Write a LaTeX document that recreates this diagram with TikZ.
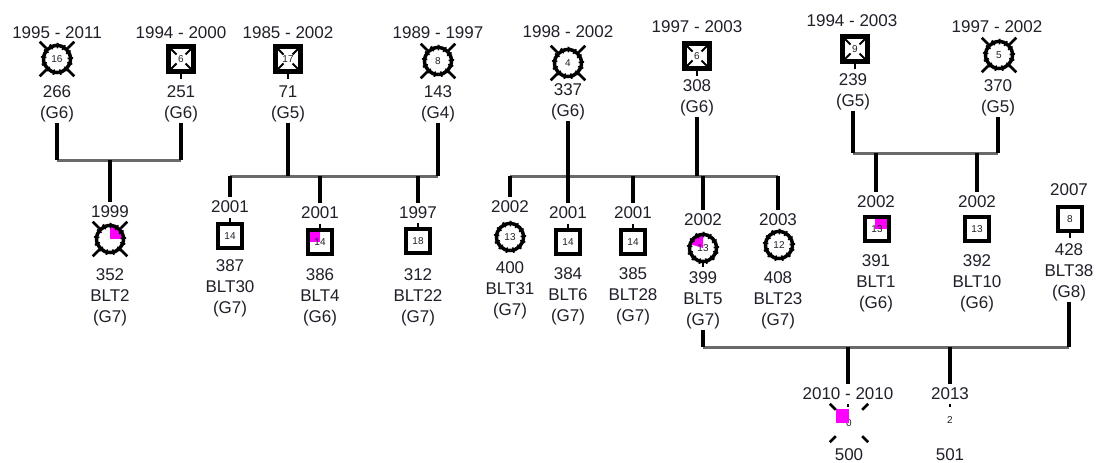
\documentclass[tikz,border=0pt]{standalone}
\usepackage{fontspec}
\setmainfont{Liberation Sans}
\usetikzlibrary{calc}

\definecolor{inkgray}{HTML}{20202A}
\definecolor{bargray}{HTML}{6A6A6A}
\definecolor{share}{HTML}{FF00FF}

\tikzset{
  txt/.style={text=inkgray, inner sep=1pt, align=center, font=\fontsize{17}{21}\selectfont},
  num/.style={text=inkgray, inner sep=0pt, font=\fontsize{10}{11}\selectfont},
  knobs/.style={postaction={draw, line width=5.5pt, dash pattern=on 1.6pt off 5pt}},
  female/.style={circle, draw=black, fill=white, line width=3.5pt, minimum size=27pt, num, knobs},
  male/.style={rectangle, draw=black, fill=white, line width=3.5pt, minimum size=24pt, num},
  deadmale/.style={male, line width=5pt, minimum size=25pt, path picture={
      \draw[line width=1.8pt] (path picture bounding box.north west) -- +(8,8);
      \draw[line width=1.8pt] (path picture bounding box.north east) -- +(-8,8);
      \draw[line width=1.8pt] (path picture bounding box.south west) -- +(8,-8);
      \draw[line width=1.8pt] (path picture bounding box.south east) -- +(-8,-8);}},
  share quarter/.style={path picture={\fill[share] (path picture bounding box.center) rectangle (path picture bounding box.north east);}},
  share wedge/.style={path picture={\fill[share] (path picture bounding box.center) -- +(0,-20) -- +(-20,-6) -- cycle;}},
  share tl/.style={path picture={\fill[share] (path picture bounding box.north west) rectangle +(12,12);}},
  share tr/.style={path picture={\fill[share] (path picture bounding box.north east) rectangle +(-14,12);}},
  deadx/.style={black, line width=2.5pt},
  stem/.style={black, line width=3.5pt},
  drop/.style={stem, shorten >=3pt},
  bar/.style={bargray, line width=3pt},
  stub/.style={black, line width=2pt}
}

\begin{document}
\begin{tikzpicture}[x=1pt, y=-1pt]
  \path[fill=white, use as bounding box] (0,0) rectangle (1096,463);

  \coordinate (barA) at (110,160);
  \coordinate (barB) at (320,176);
  \coordinate (barC) at (633,176);
  \coordinate (barD) at (927,153);
  \coordinate (barE) at (849,347);

  \node[txt] (y266) at (57,33) {1995 - 2011};
  \node[female] (s266) at (57,59) {16};
  \node[txt] (i266) at (57,104) {266\\(G6)};

  \node[txt] (y251) at (181,33) {1994 - 2000};
  \node[deadmale] (s251) at (181,59) {6};
  \node[txt] (i251) at (181,104) {251\\(G6)};

  \node[txt] (y71) at (288,33) {1985 - 2002};
  \node[deadmale] (s71) at (288,59) {17};
  \node[txt] (i71) at (288,104) {71\\(G5)};

  \node[txt] (y143) at (438,33) {1989 - 1997};
  \node[female] (s143) at (438,61) {8};
  \node[txt] (i143) at (438,104) {143\\(G4)};

  \node[txt] (y337) at (568,32) {1998 - 2002};
  \node[female] (s337) at (568,63) {4};
  \node[txt] (i337) at (568,102) {337\\(G6)};

  \node[txt] (y308) at (697,27) {1997 - 2003};
  \node[deadmale] (s308) at (697,56) {6};
  \node[txt] (i308) at (697,98) {308\\(G6)};

  \node[txt] (y239) at (852,21) {1994 - 2003};
  \node[deadmale] (s239) at (855,49) {9};
  \node[txt] (i239) at (853,92) {239\\(G5)};

  \node[txt] (y370) at (997,27) {1997 - 2002};
  \node[female] (s370) at (999,55) {5};
  \node[txt] (i370) at (998,98) {370\\(G5)};

  \node[txt] (y352) at (110,212) {1999};
  \node[female, share quarter] (s352) at (110,239) {};
  \node[txt] (i352) at (110,297) {352\\BLT2\\(G7)};

  \node[txt] (y387) at (230,207) {2001};
  \node[male] (s387) at (230,236) {14};
  \node[txt] (i387) at (230,288) {387\\BLT30\\(G7)};

  \node[txt] (y386) at (320,213) {2001};
  \node[male, share tl] (s386) at (320,242) {14};
  \node[txt] (i386) at (320,297) {386\\BLT4\\(G6)};

  \node[txt] (y312) at (418,213) {1997};
  \node[male] (s312) at (418,241) {18};
  \node[txt] (i312) at (418,297) {312\\BLT22\\(G7)};

  \node[txt] (y400) at (510,207) {2002};
  \node[female] (s400) at (510,237) {13};
  \node[txt] (i400) at (510,290) {400\\BLT31\\(G7)};

  \node[txt] (y384) at (568,213) {2001};
  \node[male] (s384) at (568,242) {14};
  \node[txt] (i384) at (568,296) {384\\BLT6\\(G7)};

  \node[txt] (y385) at (633,213) {2001};
  \node[male] (s385) at (633,242) {14};
  \node[txt] (i385) at (633,296) {385\\BLT28\\(G7)};

  \node[txt] (y399) at (703,220) {2002};
  \node[female, share wedge] (s399) at (703,248) {13};
  \node[txt] (i399) at (703,300) {399\\BLT5\\(G7)};

  \node[txt] (y408) at (778,220) {2003};
  \node[female] (s408) at (779,245) {12};
  \node[txt] (i408) at (778,300) {408\\BLT23\\(G7)};

  \node[txt] (y391) at (876,202) {2002};
  \node[male, share tr] (s391) at (877,229) {13};
  \node[txt] (i391) at (876,283) {391\\BLT1\\(G6)};

  \node[txt] (y392) at (977,202) {2002};
  \node[male] (s392) at (977,229) {13};
  \node[txt] (i392) at (977,283) {392\\BLT10\\(G6)};

  \node[txt] (y428) at (1069,190) {2007};
  \node[male] (s428) at (1070,219) {8};
  \node[txt] (i428) at (1069,272) {428\\BLT38\\(G8)};

  \node[txt] (y500) at (848,394) {2010 - 2010};
  \node[num, minimum size=26pt] (s500) at (849,423) {\raisebox{-3pt}{0}};
  \node[txt] (i500) at (849,455) {500};

  \node[txt] (y501) at (950,394) {2013};
  \node[num, minimum size=26pt] (s501) at (950,420) {2};
  \node[txt] (i501) at (950,455) {501};

  \foreach \p in {s266,s143,s337,s370,s352}
    \foreach \a in {45,135,225,315}
      \draw[deadx] (\p.\a) -- ($(\p.center)!1.6!(\p.\a)$);

  \fill[share] (s500.center) rectangle +(-13,-14);
  \draw[deadx] (s500.north west) -- +(-6,-6);
  \draw[deadx] (s500.north east) -- +(6,-6);
  \draw[deadx] (s500.south west) -- +(-6,6);
  \draw[deadx] (s500.south east) -- +(6,6);
  \draw[stub] (s500.north) ++(-1,-3) -- +(0,-3);
  \draw[stub] (s501.north) -- +(0,-3);

  \draw[stub] (s251.south) -- +(0,5);
  \draw[stub] (s71.south) -- +(0,5);
  \draw[stub] (s308.south) -- +(0,5);
  \draw[stub] (s239.south) -- +(0,5);
  \draw[stub] (s428.south) -- +(0,5);
  \draw[stub] (s399.south) -- +(0,4);
  \draw[stub] (s387.north) -- +(0,-4);
  \draw[stub] (s386.north) -- +(0,-4);
  \draw[stub] (s312.north) -- +(0,-4);
  \draw[stub] (s384.north) -- +(0,-4);
  \draw[stub] (s385.north) -- +(0,-4);

  \draw[bar] (i266.south |- barA) -- (i251.south |- barA);
  \draw[bar] (y387.north |- barB) -- (i143.south |- barB);
  \draw[bar] (y400.north |- barC) -- (y408.north |- barC);
  \draw[bar] (i239.south |- barD) -- (i370.south |- barD);
  \draw[bar] (i399.south |- barE) -- (i428.south |- barE);

  \draw[stem] (i266.south) -- (i266.south |- barA);
  \draw[stem] (i251.south) -- (i251.south |- barA);
  \draw[drop] (y352.north |- barA) -- (y352.north);

  \draw[stem] (i71.south) -- (i71.south |- barB);
  \draw[stem] (i143.south) -- (i143.south |- barB);
  \draw[drop] (y387.north |- barB) -- (y387.north);
  \draw[drop] (y386.north |- barB) -- (y386.north);
  \draw[drop] (y312.north |- barB) -- (y312.north);

  \draw[stem] (i337.south) -- (i337.south |- barC);
  \draw[stem] (i308.south) -- (i308.south |- barC);
  \draw[drop] (y400.north |- barC) -- (y400.north);
  \draw[drop] (y384.north |- barC) -- (y384.north);
  \draw[drop] (y385.north |- barC) -- (y385.north);
  \draw[drop] (y399.north |- barC) -- (y399.north);
  \draw[drop] (y408.north |- barC) -- (y408.north);

  \draw[stem] (i239.south) -- (i239.south |- barD);
  \draw[stem] (i370.south) -- (i370.south |- barD);
  \draw[drop] (y391.north |- barD) -- (y391.north);
  \draw[drop] (y392.north |- barD) -- (y392.north);

  \draw[stem] (i399.south) -- (i399.south |- barE);
  \draw[stem] (i428.south) -- (i428.south |- barE);
  \draw[drop] (y500.north |- barE) -- (y500.north);
  \draw[drop] (y501.north |- barE) -- (y501.north);
\end{tikzpicture}
\end{document}
